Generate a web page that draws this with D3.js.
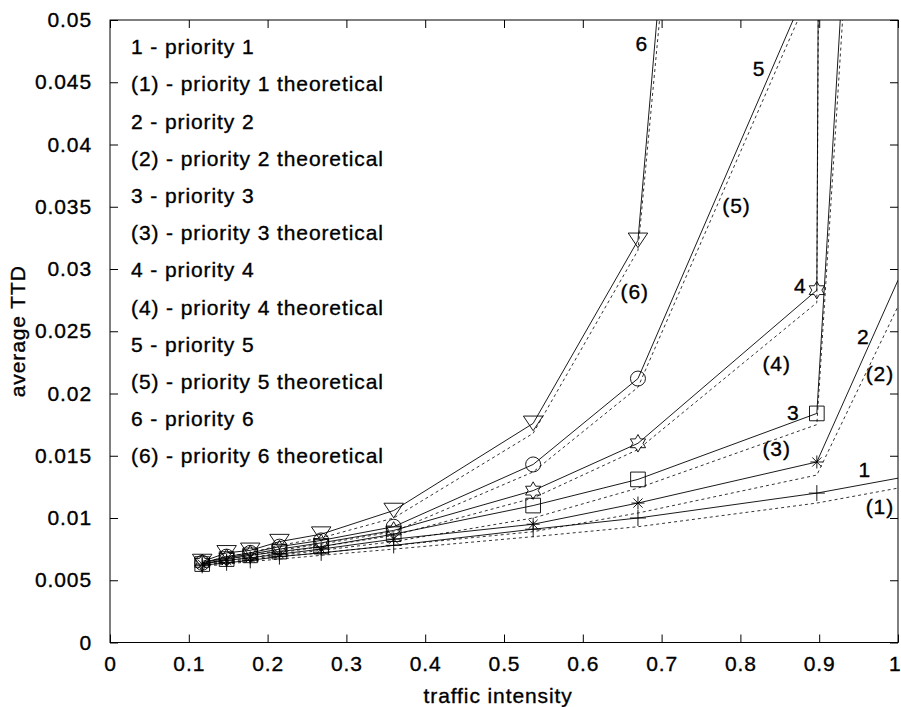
<!DOCTYPE html>
<html>
<head>
<meta charset="utf-8">
<script src="https://cdn.jsdelivr.net/npm/d3@7"></script>
<style>
  body { margin: 0; background: #fff; }
  text { font-family: "Liberation Sans", Arial, sans-serif; font-size: 21px; letter-spacing: 0.9px; fill: #000; stroke: #000; stroke-width: 0.35px; }
</style>
</head>
<body>
<div id="chart"></div>
<script>
// traffic intensity where TTD was measured / computed
var traffic = [0.117, 0.148, 0.178, 0.215, 0.268, 0.36, 0.537, 0.67, 0.897, 1.0];

// simulated average TTD, per priority
var prio1 = [0.0062, 0.0064, 0.0066, 0.0069, 0.0072, 0.0078, 0.0091, 0.0100, 0.0120, 0.0132];
var prio2 = [0.0063, 0.0066, 0.0068, 0.0071, 0.0075, 0.0083, 0.0095, 0.0112, 0.0145, 0.0291];
var prio3 = [0.0063, 0.0067, 0.0070, 0.0073, 0.0077, 0.0087, 0.0110, 0.0131, 0.0184, 0.128];
var prio4 = [0.0064, 0.0068, 0.0071, 0.0075, 0.0080, 0.0090, 0.0122, 0.0160, 0.0283, 1.4];
var prio5 = [0.0064, 0.0069, 0.0072, 0.0077, 0.0082, 0.0093, 0.0143, 0.0212, 0.0544, 0.5];
var prio6 = [0.0065, 0.0072, 0.0074, 0.0081, 0.0087, 0.0106, 0.0176, 0.0323, 0.200, 2.0];

// theoretical average TTD, per priority
var theo1 = [0.0061, 0.0063, 0.0065, 0.0067, 0.0070, 0.0075, 0.0085, 0.0093, 0.0112, 0.0124];
var theo2 = [0.0062, 0.0064, 0.0066, 0.0069, 0.0072, 0.0078, 0.0089, 0.0104, 0.01345, 0.027];
var theo3 = [0.0062, 0.0065, 0.0067, 0.0070, 0.0074, 0.0081, 0.0100, 0.0124, 0.0175, 0.12];
var theo4 = [0.0063, 0.0066, 0.0068, 0.0072, 0.0077, 0.0086, 0.0116, 0.0155, 0.0273, 1.3];
var theo5 = [0.0063, 0.0067, 0.0070, 0.0074, 0.0079, 0.0089, 0.0137, 0.0205, 0.0535, 0.5];
var theo6 = [0.0064, 0.0069, 0.0072, 0.0078, 0.0084, 0.0100, 0.0168, 0.0315, 0.185, 2.0];

var measuredCount = 9; // markers only on the measured points

var legendLines = [
  "1 - priority 1", "(1) - priority 1 theoretical",
  "2 - priority 2", "(2) - priority 2 theoretical",
  "3 - priority 3", "(3) - priority 3 theoretical",
  "4 - priority 4", "(4) - priority 4 theoretical",
  "5 - priority 5", "(5) - priority 5 theoretical",
  "6 - priority 6", "(6) - priority 6 theoretical"
];

var xTicks = [0, 0.1, 0.2, 0.3, 0.4, 0.5, 0.6, 0.7, 0.8, 0.9, 1];
var yTicks = [0, 0.005, 0.01, 0.015, 0.02, 0.025, 0.03, 0.035, 0.04, 0.045, 0.05];

// curve labels placed next to the lines: [text, traffic, TTD]
var curveLabels = [
  ["6", 0.675, 0.0481], ["5", 0.8236, 0.0461], ["(5)", 0.795, 0.0351],
  ["(6)", 0.666, 0.0282], ["4", 0.876, 0.0287], ["(4)", 0.846, 0.0224],
  ["2", 0.956, 0.0246], ["(2)", 0.977, 0.0216], ["3", 0.867, 0.0185],
  ["(3)", 0.846, 0.0156], ["1", 0.958, 0.0139], ["(1)", 0.977, 0.0109]
];

var width = 901, height = 707,
    margin = {top: 20, right: 3, bottom: 64.5, left: 110},
    w = width - margin.left - margin.right,
    h = height - margin.top - margin.bottom,
    tickLen = 8;

var x = d3.scaleLinear().domain([0, 1]).range([0, w]);
var y = d3.scaleLinear().domain([0, 0.05]).range([h, 0]);

// six pointed star, outline like the matlab hexagram
var hexagram = {
  draw: function(context, size) {
    var r = Math.sqrt(size) * 0.62, ri = r / Math.sqrt(3);
    for (var k = 0; k < 12; k++) {
      var a = -Math.PI / 2 + k * Math.PI / 6, rr = k % 2 ? ri : r;
      if (k === 0) context.moveTo(rr * Math.cos(a), rr * Math.sin(a));
      else context.lineTo(rr * Math.cos(a), rr * Math.sin(a));
    }
    context.closePath();
  }
};
var plusMark = {
  draw: function(context, size) {
    var r = Math.sqrt(size) / 2;
    context.moveTo(-r, 0); context.lineTo(r, 0);
    context.moveTo(0, -r); context.lineTo(0, r);
  }
};
var asterMark = {
  draw: function(context, size) {
    var r = Math.sqrt(size) / 2, d = r * 0.707;
    context.moveTo(-r, 0); context.lineTo(r, 0);
    context.moveTo(0, -r); context.lineTo(0, r);
    context.moveTo(-d, -d); context.lineTo(d, d);
    context.moveTo(-d, d); context.lineTo(d, -d);
  }
};
var squareMark = {
  draw: function(context, size) {
    var r = Math.sqrt(size) / 2;
    context.rect(-r, -r, 2 * r, 2 * r);
  }
};
var circleMark = {
  draw: function(context, size) {
    var r = Math.sqrt(size) / 2;
    context.moveTo(r, 0); context.arc(0, 0, r, 0, 2 * Math.PI);
  }
};
var triDown = {
  draw: function(context, size) {
    var r = Math.sqrt(size) / 2;
    context.moveTo(-r, -r * 0.75); context.lineTo(r, -r * 0.75);
    context.lineTo(0, r * 0.75); context.closePath();
  }
};

var series = [
  {sim: prio1, theo: theo1, mark: plusMark, size: 256},
  {sim: prio2, theo: theo2, mark: asterMark, size: 169},
  {sim: prio3, theo: theo3, mark: squareMark, size: 215},
  {sim: prio4, theo: theo4, mark: hexagram, size: 200},
  {sim: prio5, theo: theo5, mark: circleMark, size: 225},
  {sim: prio6, theo: theo6, mark: triDown, size: 380}
];

var svg = d3.select("#chart").append("svg")
  .attr("width", width)
  .attr("height", height);

svg.append("defs").append("clipPath").attr("id", "plotclip")
  .append("rect").attr("width", w).attr("height", h);

var g = svg.append("g")
  .attr("transform", "translate(" + margin.left + "," + margin.top + ")");

// axes, matlab style: ticks inside, box all round
g.append("rect").attr("width", w).attr("height", h)
  .attr("fill", "none").attr("stroke", "#000").attr("stroke-width", 1);

var xAxis = g.append("g").attr("transform", "translate(0," + h + ")")
  .call(d3.axisBottom(x).tickValues(xTicks).tickSizeInner(-tickLen).tickSizeOuter(0).tickPadding(14)
    .tickFormat(function(d) { return d3.format("")(d); }));
var xTop = g.append("g")
  .call(d3.axisTop(x).tickValues(xTicks).tickSizeInner(-tickLen).tickSizeOuter(0).tickFormat(""));
var yAxis = g.append("g")
  .call(d3.axisLeft(y).tickValues(yTicks).tickSizeInner(-tickLen).tickSizeOuter(0).tickPadding(18)
    .tickFormat(function(d) { return d3.format("")(d); }));
var yRight = g.append("g").attr("transform", "translate(" + w + ",0)")
  .call(d3.axisRight(y).tickValues(yTicks).tickSizeInner(-tickLen).tickSizeOuter(0).tickFormat(""));

[xAxis, xTop, yAxis, yRight].forEach(function(a) {
  a.select(".domain").remove();
  a.selectAll("line").attr("stroke", "#000");
  a.selectAll("text").attr("font-size", null).attr("font-family", null).style("fill", "#000");
});
xAxis.selectAll("text").attr("dy", "0.71em");
// the last x label sits at the page edge: keep it inside
xAxis.selectAll(".tick").filter(function(d) { return d === 1; }).select("text")
  .attr("text-anchor", "end").attr("x", 3);

svg.append("text")
  .attr("x", margin.left + x(0.4925)).attr("y", 703)
  .attr("text-anchor", "middle")
  .text("traffic intensity");

svg.append("text")
  .attr("transform", "translate(25," + (margin.top + y(0.025)) + ") rotate(-90)")
  .attr("text-anchor", "middle")
  .text("average TTD");

// curves
var plot = g.append("g").attr("clip-path", "url(#plotclip)");

var line = d3.line()
  .x(function(d) { return x(d[0]); })
  .y(function(d) { return y(d[1]); });

series.forEach(function(s) {
  var simPts = d3.zip(traffic, s.sim),
      theoPts = d3.zip(traffic, s.theo);

  plot.append("path")
    .attr("d", line(theoPts))
    .attr("fill", "none")
    .attr("stroke", "#000")
    .attr("stroke-width", 0.8)
    .attr("stroke-dasharray", "3,3");

  plot.append("path")
    .attr("d", line(simPts))
    .attr("fill", "none")
    .attr("stroke", "#000")
    .attr("stroke-width", 0.9);

  plot.selectAll(null)
    .data(simPts.slice(0, measuredCount))
    .enter()
    .append("path")
    .attr("transform", function(d) { return "translate(" + x(d[0]) + "," + y(d[1]) + ")"; })
    .attr("d", d3.symbol().type(s.mark).size(s.size))
    .attr("fill", "none")
    .attr("stroke", "#000")
    .attr("stroke-width", 0.9);
});

// legend text block
g.selectAll(".legend")
  .data(legendLines)
  .enter()
  .append("text")
  .attr("class", "legend")
  .attr("x", 21)
  .attr("y", function(d, i) { return 26.7 + i * 37.2; })
  .attr("dy", "0.36em")
  .text(function(d) { return d; });

g.selectAll(".clabel")
  .data(curveLabels)
  .enter()
  .append("text")
  .attr("class", "clabel")
  .attr("x", function(d) { return x(d[1]); })
  .attr("y", function(d) { return y(d[2]); })
  .attr("dy", "0.36em")
  .attr("text-anchor", "middle")
  .text(function(d) { return d[0]; });
</script>
</body>
</html>
